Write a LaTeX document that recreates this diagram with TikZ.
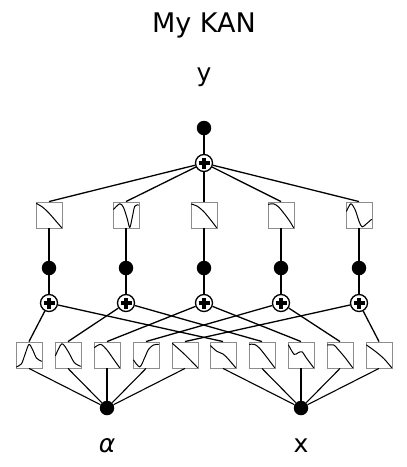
\documentclass[tikz,border=0pt]{standalone}
\usepackage{fontspec}
\setmainfont{DejaVu Sans}
\usepackage{xcolor}
\definecolor{boxgray}{HTML}{8C8C8C}

\tikzset{
  dot/.style={circle, fill=black, inner sep=0pt, minimum size=14.5pt},
  sum/.style={circle, draw=black, fill=white, line width=1.3pt, inner sep=0pt, minimum size=17pt,
    path picture={\draw[line width=3.4pt] ([xshift=-5.5pt]path picture bounding box.center) -- ([xshift=5.5pt]path picture bounding box.center);
                  \draw[line width=3.4pt] ([yshift=-5.5pt]path picture bounding box.center) -- ([yshift=5.5pt]path picture bounding box.center);}},
  actbox/.style={rectangle, draw=boxgray, line width=0.9pt, inner sep=0pt, minimum size=26pt},
  edge/.style={line width=1.3pt},
  inedge/.style={line width=1.1pt},
  fn/.style={line width=1pt, line cap=round, line join=round, x=12.5pt, y=12.5pt}
}

\begin{document}
\begin{tikzpicture}[x=1pt,y=-1pt]
\useasboundingbox (0,0) rectangle (407,467);

% titles and labels
\node[anchor=base] (title) at (204,32) {\fontsize{27}{30}\selectfont My KAN};
\node[anchor=base] (ylab) at (204,81) {\fontsize{25}{28}\selectfont y};
\node[anchor=base] (alab) at (107,452) {\fontsize{25}{28}\selectfont\itshape α};
\node[anchor=base] (xlab) at (301,452) {\fontsize{25}{28}\selectfont x};

% output
\node[dot] (out) at (204,128) {};
\node[sum] (S) at (204,163) {};

% upper activations
\node[actbox] (u1) at (49,215) {};
\node[actbox] (u2) at (126,215) {};
\node[actbox] (u3) at (204,215) {};
\node[actbox] (u4) at (281,215) {};
\node[actbox] (u5) at (359,215) {};

% hidden nodes
\node[dot] (h1) at (49,268) {};
\node[dot] (h2) at (126,268) {};
\node[dot] (h3) at (204,268) {};
\node[dot] (h4) at (281,268) {};
\node[dot] (h5) at (359,268) {};
\node[sum] (s1) at (49,303) {};
\node[sum] (s2) at (126,303) {};
\node[sum] (s3) at (204,303) {};
\node[sum] (s4) at (281,303) {};
\node[sum] (s5) at (359,303) {};

% lower activations
\node[actbox] (a1) at (29,355) {};
\node[actbox] (a2) at (68,355) {};
\node[actbox] (a3) at (107,355) {};
\node[actbox] (a4) at (146,355) {};
\node[actbox] (a5) at (185,355) {};
\node[actbox] (b1) at (223,355) {};
\node[actbox] (b2) at (262,355) {};
\node[actbox] (b3) at (301,355) {};
\node[actbox] (b4) at (340,355) {};
\node[actbox] (b5) at (379,355) {};

% inputs
\node[dot] (inA) at (107,408) {};
\node[dot] (inX) at (301,408) {};

% edges
\draw[edge] (out) -- (S);
\draw[edge] (S) -- (u1.north);
\draw[edge] (S) -- (u2.north);
\draw[edge] (S) -- (u3.north);
\draw[edge] (S) -- (u4.north);
\draw[edge] (S) -- (u5.north);

\draw[edge] (u1.south) -- (h1) -- (s1);
\draw[edge] (u2.south) -- (h2) -- (s2);
\draw[edge] (u3.south) -- (h3) -- (s3);
\draw[edge] (u4.south) -- (h4) -- (s4);
\draw[edge] (u5.south) -- (h5) -- (s5);

\draw[edge] (s1) -- (a1.north);
\draw[edge] (s2) -- (a2.north);
\draw[edge] (s3) -- (a3.north);
\draw[edge] (s4) -- (a4.north);
\draw[edge] (s5) -- (a5.north);
\draw[edge] (s1) -- (b1.north);
\draw[edge] (s2) -- (b2.north);
\draw[edge] (s3) -- (b3.north);
\draw[edge] (s4) -- (b4.north);
\draw[edge] (s5) -- (b5.north);

\draw[inedge] (a1.south) -- (inA);
\draw[inedge] (a2.south) -- (inA);
\draw[inedge] (a3.south) -- (inA);
\draw[inedge] (a4.south) -- (inA);
\draw[inedge] (a5.south) -- (inA);
\draw[inedge] (b1.south) -- (inX);
\draw[inedge] (b2.south) -- (inX);
\draw[inedge] (b3.south) -- (inX);
\draw[inedge] (b4.south) -- (inX);
\draw[inedge] (b5.south) -- (inX);

% curves in the upper boxes
\draw[shift={(u1.center)}, fn] plot[smooth] coordinates {(-1,0.92) (-0.5,0.62) (0,0.15) (0.5,-0.42) (1,-1)};
\draw[shift={(u2.center)}, fn] plot[smooth] coordinates {(-1,0.45) (-0.5,0.9) (-0.2,0.6) (0.1,-0.3) (0.3,-1) (0.5,-0.2) (0.7,0.7) (1,0.8)};
\draw[shift={(u3.center)}, fn] plot[smooth] coordinates {(-1,0.88) (-0.5,0.68) (0,0.25) (0.5,-0.35) (1,-1)};
\draw[shift={(u4.center)}, fn] plot[smooth] coordinates {(-1,0.85) (-0.6,0.9) (-0.2,0.65) (0.3,0.05) (0.7,-0.5) (1,-1)};
\draw[shift={(u5.center)}, fn] plot[smooth] coordinates {(-1,0.3) (-0.65,0.9) (-0.3,0.4) (0,-0.5) (0.25,-0.95) (0.6,-0.7) (1,-0.35)};

% curves in the lower boxes
\draw[shift={(a1.center)}, fn] plot[smooth] coordinates {(-1,-0.95) (-0.6,-0.7) (-0.3,0.1) (0,0.85) (0.3,0.4) (0.6,-0.25) (1,-0.5)};
\draw[shift={(a2.center)}, fn] plot[smooth] coordinates {(-1,-0.05) (-0.5,0.9) (0,0.3) (0.5,-0.6) (1,-0.9)};
\draw[shift={(a3.center)}, fn] plot[smooth] coordinates {(-1,0.6) (-0.5,0.85) (0,0.4) (0.5,-0.3) (1,-1)};
\draw[shift={(a4.center)}, fn] plot[smooth] coordinates {(-1,-0.4) (-0.5,-0.95) (-0.1,-0.2) (0.2,0.45) (0.6,0.8) (1,0.85)};
\draw[shift={(a5.center)}, fn] plot[smooth] coordinates {(-1,0.92) (0,0.02) (1,-1)};
\draw[shift={(b1.center)}, fn] plot[smooth] coordinates {(-1,0.75) (-0.5,0.3) (0,0.08) (0.4,-0.3) (1,-1)};
\draw[shift={(b2.center)}, fn] plot[smooth] coordinates {(-1,0.85) (-0.6,0.85) (-0.2,0.55) (0.4,-0.2) (1,-1)};
\draw[shift={(b3.center)}, fn] plot[smooth] coordinates {(-1,0.8) (-0.55,0.05) (-0.2,0.2) (0.1,0.25) (0.4,-0.2) (1,-1)};
\draw[shift={(b4.center)}, fn] plot[smooth] coordinates {(-1,0.8) (-0.5,0.8) (-0.2,0.5) (0.4,-0.2) (1,-1)};
\draw[shift={(b5.center)}, fn] plot[smooth] coordinates {(-1,0.8) (-0.3,0.3) (0.4,-0.3) (1,-1)};
\end{tikzpicture}
\end{document}
